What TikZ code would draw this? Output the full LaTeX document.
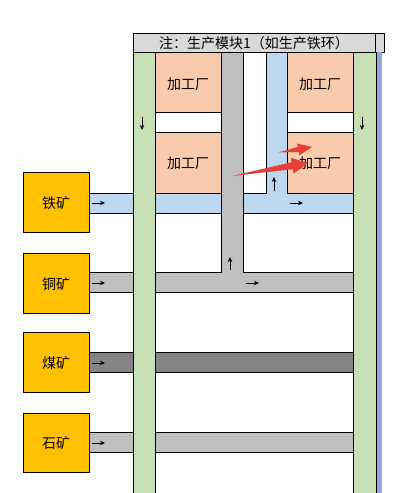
\documentclass[tikz,border=0pt]{standalone}
\usepackage{fontspec}
\newfontfamily\cjk{Noto Sans CJK SC}
\usetikzlibrary{arrows.meta}
\definecolor{hdr}{RGB}{217,217,217}
\definecolor{grn}{RGB}{198,224,180}
\definecolor{blu}{RGB}{189,215,238}
\definecolor{bstrip}{RGB}{142,169,219}
\definecolor{fac}{RGB}{248,203,173}
\definecolor{ore}{RGB}{255,192,0}
\definecolor{lgray}{RGB}{191,191,191}
\definecolor{dgray}{RGB}{134,132,135}
\definecolor{redarr}{RGB}{232,64,56}
\tikzset{
  cell/.style={draw=black,line width=0.9pt},
  txt/.style={font=\cjk\fontsize{14}{16}\selectfont,inner sep=0pt},
  flow/.style={draw=black,line width=0.8pt,-{Stealth[length=5pt,width=4.5pt]}},
}
\begin{document}
\begin{tikzpicture}[x=1pt,y=-1pt]
\useasboundingbox (0,0) rectangle (400,493);
% header
\draw[cell,fill=hdr] (133,33) rectangle (375,52);
\draw[cell,fill=hdr] (375,33) rectangle (384,52);
\node[txt] (title) at (254,43.5) {注：生产模块1（如生产铁环）};
% blue strip on the right
\fill[bstrip] (376,52) rectangle (382,495);
% blue road (iron) with vertical branch
\draw[cell,fill=blu] (89,193) -- (266,193) -- (266,52) -- (287,52) -- (287,193) -- (353,193) -- (353,213) -- (89,213) -- cycle;
% gray road (copper) with vertical branch
\draw[cell,fill=lgray] (89,272) -- (221,272) -- (221,52) -- (243,52) -- (243,272) -- (353,272) -- (353,292) -- (89,292) -- cycle;
% coal road
\draw[cell,fill=dgray] (89,352) rectangle (353,372);
% stone road
\draw[cell,fill=lgray] (89,432) rectangle (353,452);
% factories
\draw[cell,fill=fac] (155,52) rectangle (221,112);
\node[txt] (f1) at (188,84) {加工厂};
\draw[cell,fill=fac] (287,52) rectangle (353,112);
\node[txt] (f2) at (320,84) {加工厂};
\draw[cell,fill=white] (155,112) rectangle (221,132);
\draw[cell,fill=white] (287,112) rectangle (353,132);
\draw[cell,fill=fac] (155,132) rectangle (221,193);
\node[txt] (f3) at (188,163) {加工厂};
\draw[cell,fill=fac] (287,132) rectangle (353,193);
\node[txt] (f4) at (320,163) {加工厂};
% green columns
\draw[cell,fill=grn] (133,52) rectangle (155,496);
\draw[cell,fill=grn] (353,52) rectangle (376,496);
% ore boxes
\draw[cell,fill=ore] (23,172) rectangle (89,232);
\node[txt] (iron) at (56,203) {铁矿};
\draw[cell,fill=ore] (23,253) rectangle (89,313);
\node[txt] (copper) at (56,284) {铜矿};
\draw[cell,fill=ore] (23,332) rectangle (89,392);
\node[txt] (coal) at (56,363) {煤矿};
\draw[cell,fill=ore] (23,413) rectangle (89,472);
\node[txt] (stone) at (56,443) {石矿};
% small flow arrows
\coordinate (a1s) at (92,203); \coordinate (a1e) at (105,203);
\coordinate (a2s) at (92,283); \coordinate (a2e) at (105,283);
\coordinate (a3s) at (92,363); \coordinate (a3e) at (105,363);
\coordinate (a4s) at (92,443); \coordinate (a4e) at (105,443);
\coordinate (b1s) at (290,203); \coordinate (b1e) at (303,203);
\coordinate (b2s) at (274,191); \coordinate (b2e) at (274,177);
\coordinate (c1s) at (230,270); \coordinate (c1e) at (230,257);
\coordinate (c2s) at (246,283); \coordinate (c2e) at (259,283);
\coordinate (g1s) at (142,117); \coordinate (g1e) at (142,130);
\coordinate (g2s) at (362,117); \coordinate (g2e) at (362,130);
\foreach \p in {a1,a2,a3,a4,b1,b2,c1,c2,g1,g2}{\draw[flow] (\p s) -- (\p e);}
% red annotation arrows
\fill[redarr] (278,152.5) -- (298.6,151.9) -- (299.2,155.3) -- (312,147) -- (297.2,143.5) -- (297.8,147.0) -- cycle;
\fill[redarr] (232,176) -- (292.8,169.2) -- (293.6,173.6) -- (308,163) -- (290.8,157.8) -- (291.6,162.2) -- cycle;
\end{tikzpicture}
\end{document}
